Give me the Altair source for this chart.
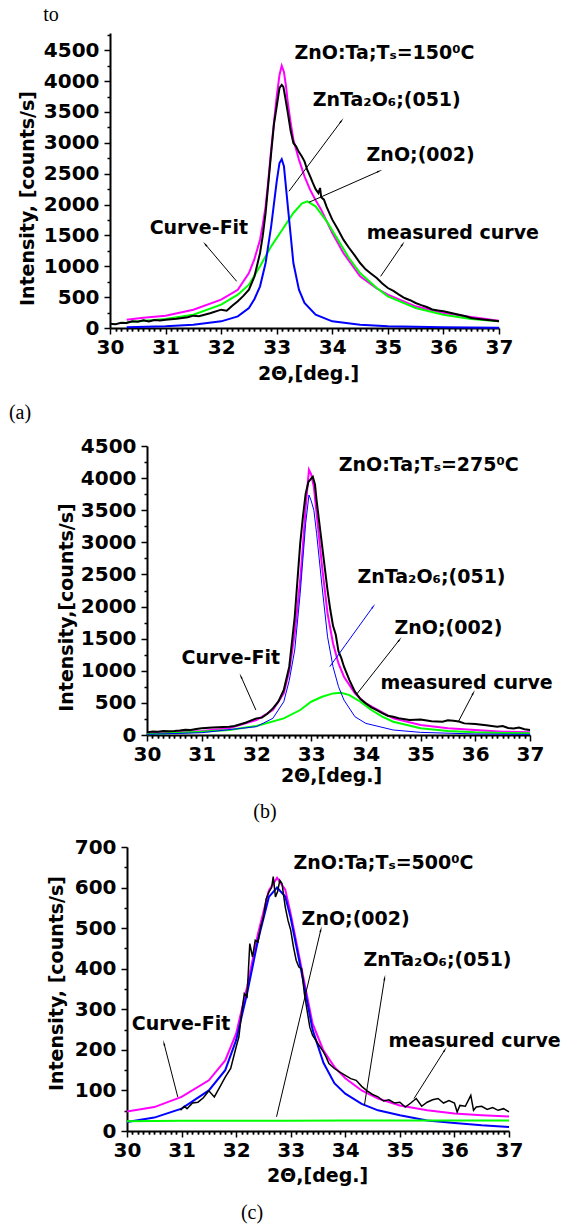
import math
import pandas as pd
import altair as alt

FONT = "DejaVu Sans"
SERIF = "Liberation Serif"

# ---------------- Panel (a) ----------------
a_fit_x = [30.3, 30.6, 31.0, 31.5, 32.0, 32.3, 32.5, 32.6, 32.7, 32.75, 32.8, 32.85, 32.9, 32.95, 33.0, 33.05,
           33.09, 33.13, 33.17, 33.2, 33.25, 33.3, 33.4, 33.5, 33.6, 33.7, 33.8, 34.0, 34.2, 34.5, 34.8, 35.0,
           35.5, 36.0, 36.5, 37.0]
a_fit_y = [135, 165, 200, 297, 459, 620, 890, 1120, 1430, 1680, 1970, 2400, 2890, 3330, 3754, 4100,
           4250, 4150, 3900, 3646, 3330, 3052, 2728, 2458, 2242, 2070, 1918, 1540, 1215, 837, 640, 540,
           351, 243, 178, 119]
a_zno_x = [30.3, 31.0, 31.5, 32.0, 32.3, 32.5, 32.7, 32.9, 33.1, 33.3, 33.45, 33.55, 33.7, 33.9, 34.1, 34.3,
           34.5, 34.8, 35.0, 35.5, 36.0, 36.5, 37.0]
a_zno_y = [92, 146, 216, 378, 540, 702, 999, 1323, 1593, 1864, 2015, 2052, 1972, 1729, 1432, 1134,
           891, 648, 513, 324, 216, 146, 108]
a_zta_x = [30.3, 31.0, 31.5, 32.0, 32.3, 32.5, 32.6, 32.7, 32.8, 32.9, 33.0, 33.05, 33.09, 33.13, 33.2, 33.3,
           33.4, 33.5, 33.7, 34.0, 34.5, 35.0, 36.0, 37.0]
a_zta_y = [11, 27, 54, 108, 189, 324, 470, 675, 1053, 1648, 2377, 2674, 2734, 2620, 1972, 1053,
           621, 405, 216, 108, 54, 27, 11, 5]
a_meas_x = [30.0, 30.1, 30.2, 30.3, 30.4, 30.5, 30.6, 30.7, 30.8, 30.9, 31.0, 31.2, 31.4, 31.5, 31.6, 31.8,
            32.0, 32.1, 32.2, 32.3, 32.4, 32.5, 32.6, 32.7, 32.75, 32.8, 32.85, 32.9, 32.95, 33.0, 33.05, 33.09,
            33.12, 33.15, 33.2, 33.25, 33.3, 33.35, 33.4, 33.45, 33.5, 33.55, 33.6, 33.65, 33.7, 33.75, 33.78,
            33.8, 33.85, 33.9, 34.0, 34.1, 34.2, 34.3, 34.4, 34.5, 34.6, 34.7, 34.8, 34.9, 35.0, 35.1, 35.2,
            35.3, 35.4, 35.5, 35.6, 35.7, 35.8, 35.9, 36.0, 36.2, 36.4, 36.5, 36.6, 36.8, 37.0]
a_meas_y = [70, 62, 85, 80, 110, 100, 125, 105, 130, 120, 135, 150, 175, 200, 190, 240,
            297, 280, 360, 432, 520, 620, 837, 1215, 1500, 1864, 2350, 2836, 3300, 3593, 3890, 3938,
            3906, 3755, 3485, 3200, 2998, 2939, 2850, 2782, 2700, 2560, 2460, 2350, 2250, 2188, 2269,
            2120, 2080, 1960, 1756, 1600, 1432, 1300, 1180, 1053, 950, 880, 810, 720, 648, 600, 540,
            486, 450, 405, 370, 340, 300, 285, 270, 230, 190, 162, 150, 130, 108]

# ---------------- Panel (b) ----------------
b_fit_x = [30.0, 30.5, 31.0, 31.5, 32.0, 32.3, 32.5, 32.6, 32.7, 32.8, 32.85, 32.9, 32.96, 33.0, 33.05, 33.1,
           33.2, 33.3, 33.4, 33.5, 33.6, 33.8, 34.0, 34.5, 35.0, 35.5, 36.0, 36.5, 37.0]
b_fit_y = [26, 42, 62, 104, 233, 389, 648, 1000, 1581, 2410, 2950, 3551, 4130, 4060, 3862, 3447,
           2617, 1892, 1426, 1115, 907, 648, 492, 259, 156, 104, 78, 52, 41]
b_zta_x = [30.0, 31.0, 32.0, 32.3, 32.5, 32.6, 32.7, 32.8, 32.9, 32.96, 33.0, 33.05, 33.1, 33.2, 33.3, 33.4,
           33.5, 33.6, 33.8, 34.0, 34.5, 35.0, 36.0, 37.0]
b_zta_y = [10, 36, 130, 259, 518, 850, 1322, 2203, 3292, 3737, 3650, 3499, 3136, 2307, 1529, 1063,
           752, 544, 285, 181, 78, 41, 16, 10]
b_zno_x = [30.0, 31.0, 31.5, 32.0, 32.5, 32.8, 33.0, 33.2, 33.4, 33.55, 33.7, 33.9, 34.1, 34.3, 34.5, 35.0,
           35.5, 36.0, 36.5, 37.0]
b_zno_y = [10, 52, 78, 140, 259, 389, 518, 596, 648, 658, 622, 518, 389, 285, 207, 104,
           62, 41, 31, 26]
b_meas_x = [30.0, 30.1, 30.2, 30.3, 30.4, 30.5, 30.6, 30.7, 30.8, 30.9, 31.0, 31.2, 31.4, 31.5, 31.6, 31.8,
            32.0, 32.1, 32.2, 32.3, 32.4, 32.5, 32.6, 32.7, 32.8, 32.85, 32.9, 32.95, 33.0, 33.03, 33.07, 33.1,
            33.15, 33.2, 33.25, 33.3, 33.35, 33.4, 33.45, 33.5, 33.55, 33.6, 33.7, 33.8, 33.9, 34.0, 34.1,
            34.2, 34.3, 34.4, 34.5, 34.6, 34.8, 35.0, 35.2, 35.4, 35.5, 35.6, 35.7, 35.8, 36.0, 36.2, 36.4,
            36.5, 36.6, 36.7, 36.8, 36.9, 37.0]
b_meas_y = [41, 55, 50, 62, 58, 62, 70, 80, 78, 95, 104, 115, 125, 130, 140, 190,
            259, 270, 330, 415, 520, 700, 1063, 1840, 2981, 3400, 3758, 3940, 3992, 4020, 3900, 3650,
            3300, 2950, 2600, 2250, 1950, 1700, 1560, 1300, 1200, 1063, 855, 674, 560, 492, 430,
            389, 340, 300, 285, 260, 233, 240, 215, 207, 230, 223, 210, 181, 170, 150, 130,
            140, 110, 100, 115, 90, 78]

# ---------------- Panel (c) ----------------
c_fit_x = [30.0, 30.5, 31.0, 31.5, 31.8, 32.0, 32.2, 32.4, 32.6, 32.75, 32.9, 33.0, 33.2, 33.4, 33.6, 33.8,
           34.0, 34.3, 34.6, 35.0, 35.5, 36.0, 36.5, 37.0]
c_fit_y = [48, 59, 84, 125, 174, 240, 355, 486, 593, 624, 595, 535, 400, 265, 198, 158,
           130, 100, 80, 63, 51, 43, 39, 36]
c_zno_y = [22, 33, 55, 100, 150, 224, 339, 470, 577, 600, 578, 525, 390, 250, 168, 118,
           92, 67, 51, 39, 26, 20, 14, 10]
c_zta_x = [30.0, 31.0, 32.0, 33.0, 34.0, 35.0, 36.0, 37.0]
c_zta_y = [24, 25, 25, 25, 26, 26, 26, 26]
c_meas_x = [30.98, 31.05, 31.1, 31.2, 31.3, 31.4, 31.5, 31.6, 31.7, 31.8, 31.9, 32.0, 32.05, 32.1, 32.15, 32.2,
            32.25, 32.3, 32.35, 32.4, 32.45, 32.5, 32.55, 32.6, 32.65, 32.68, 32.72, 32.76, 32.8, 32.84, 32.9,
            32.95, 33.0, 33.05, 33.1, 33.15, 33.2, 33.25, 33.3, 33.35, 33.4, 33.5, 33.6, 33.65, 33.7, 33.8,
            33.9, 34.0, 34.1, 34.2, 34.3, 34.4, 34.5, 34.6, 34.7, 34.8, 34.9, 35.0, 35.1, 35.2, 35.3, 35.4,
            35.5, 35.6, 35.7, 35.8, 35.9, 36.0, 36.05, 36.1, 36.2, 36.3, 36.35, 36.4, 36.5, 36.6, 36.7, 36.8,
            36.9, 37.0]
c_meas_y = [51, 61, 55, 69, 71, 82, 99, 84, 108, 133, 154, 207, 232, 290, 339, 331,
            462, 429, 470, 466, 503, 527, 572, 589, 600, 627, 577, 590, 618, 610, 552,
            519, 495, 454, 421, 404, 400, 339, 297, 256, 236, 215, 195, 182, 166, 154,
            145, 137, 129, 125, 110, 99, 90, 84, 74, 77, 69, 71, 59, 69, 80, 61,
            71, 77, 80, 69, 75, 69, 47, 63, 61, 88, 51, 59, 61, 53, 58, 51,
            55, 47]

# ---------------- annotations (text, x, y) and arrows (x1, y1, x2, y2, colour) ----------------
a_texts = [("ZnO:Ta;Tₛ=150⁰C", 34.94, 4457), ("ZnTa₂O₆;(051)", 34.98, 3700), ("ZnO;(002)", 35.59, 2809),
           ("Curve-Fit", 31.60, 1621), ("measured curve", 36.17, 1540)]
a_arrows = [(33.22, 2215, 34.16, 3350, "black"), (33.58, 2037, 34.84, 2539, "black"),
            (32.28, 756, 31.72, 1350, "black"), (34.87, 837, 35.26, 1350, "black")]
b_texts = [("ZnO:Ta;Tₛ=275⁰C", 35.15, 4199), ("ZnTa₂O₆;(051)", 35.2, 2462), ("ZnO;(002)", 35.51, 1659),
           ("Curve-Fit", 31.53, 1192), ("measured curve", 35.84, 804)]
b_arrows = [(33.34, 1063, 34.13, 1996, "#0000ff"), (33.82, 622, 34.61, 1477, "black"),
            (31.99, 389, 31.72, 907, "black"), (35.69, 207, 35.96, 648, "black")]
c_texts = [("ZnO:Ta;Tₛ=500⁰C", 34.70, 661), ("ZnO;(002)", 34.19, 523), ("ZnTa₂O₆;(051)", 35.69, 421),
           ("Curve-Fit", 30.99, 263), ("measured curve", 36.37, 223)]
c_arrows = [(32.74, 35, 33.55, 495, "black"), (34.35, 63, 34.72, 376, "black"),
            (30.93, 84, 30.68, 215, "black"), (35.26, 80, 35.82, 199, "black")]

X_MAJOR = [30, 31, 32, 33, 34, 35, 36, 37]
X_MINOR = [round(30 + i * 0.1, 1) for i in range(71) if i % 10 != 0]
MAGENTA, GREEN, BLUE = "#ff00ff", "#00ff00", "#0000ff"


def panel(series, texts, arrows, ymax, ystep, ymajor, w, h, ytitle, ytx, yty, xtx, xty, labels):
    sx, sy = w / 7.0, h / float(ymax)
    xs = alt.Scale(domain=[30, 37], nice=False, zero=False)
    ys = alt.Scale(domain=[0, ymax], nice=False)
    y_major = [v for v in range(0, int(ymax) + 1, ymajor)]
    y_even = y_major[0::2]
    y_odd = y_major[1::2]
    y_minor = [v for v in range(0, int(ymax) + 1, ystep) if v % ymajor != 0]
    xaxis = alt.Axis(values=X_MAJOR, format="d", orient="bottom", tickSize=6,
                     labelFlush=False, labelOverlap=False, labelBound=False, labelPadding=3,
                     title="2Θ,[deg.]", titleX=xtx, titleY=xty, titleAlign="center", titleBaseline="middle")
    yaxis = alt.Axis(values=y_even, format="d", orient="left", tickSize=6,
                     labelFlush=False, labelOverlap=False, labelBound=False, labelPadding=5,
                     title=ytitle, titleX=ytx, titleY=yty, titleAngle=270, titleAlign="center",
                     titleBaseline="middle")
    yodd = alt.Axis(values=y_odd, format="d", orient="left", tickSize=6, domain=False,
                    labelFlush=False, labelOverlap=False, labelBound=False, labelPadding=5, title=None)
    xminor = alt.Axis(values=X_MINOR, orient="bottom", tickSize=3, labels=False, domain=False, title=None)
    yminor = alt.Axis(values=y_minor, orient="left", tickSize=3, labels=False, domain=False, title=None)
    layers = []
    for i, (xv, yv, col, sw) in enumerate(series):
        df = pd.DataFrame({"x": xv, "y": yv})
        if i == 0:
            ex = alt.X("x:Q", scale=xs, axis=xaxis)
            ey = alt.Y("y:Q", scale=ys, axis=yaxis)
        else:
            ex = alt.X("x:Q", scale=xs)
            ey = alt.Y("y:Q", scale=ys)
        layers.append(alt.Chart(df).mark_line(color=col, strokeWidth=sw).encode(x=ex, y=ey))
    tdf = pd.DataFrame({"t": [t[0] for t in texts], "x": [t[1] for t in texts], "y": [t[2] for t in texts]})
    layers.append(alt.Chart(tdf).mark_text(font=FONT, fontWeight="bold", fontSize=19, color="black").encode(
        x=alt.X("x:Q", scale=xs), y=alt.Y("y:Q", scale=ys), text="t:N"))
    rows = []
    for (x1, y1, x2, y2, c) in arrows:
        dx = (x2 - x1) * sx
        dy = -(y2 - y1) * sy
        ang = math.degrees(math.atan2(dx, -dy)) % 360
        rows.append({"x": x1, "y": y1, "xe": x2, "ye": y2, "c": c, "ang": ang})
    adf = pd.DataFrame(rows)
    layers.append(alt.Chart(adf).mark_rule(strokeWidth=1).encode(
        x=alt.X("x:Q", scale=xs), y=alt.Y("y:Q", scale=ys),
        x2="xe:Q", y2="ye:Q", color=alt.Color("c:N", scale=None)))
    layers.append(alt.Chart(adf).mark_point(shape="wedge", filled=True, size=45, opacity=1).encode(
        x=alt.X("xe:Q", scale=xs), y=alt.Y("ye:Q", scale=ys),
        angle=alt.Angle("ang:Q", scale=None), color=alt.Color("c:N", scale=None)))
    for (txt, px, py) in labels:
        layers.append(alt.Chart(pd.DataFrame({"a": [0]})).mark_text(
            font=SERIF, fontSize=20, color="black").encode(
            x=alt.value(px), y=alt.value(py), text=alt.value(txt)))
    main = alt.layer(*layers)
    df0 = pd.DataFrame({"x": series[0][0], "y": series[0][1]})
    minor = alt.Chart(df0).mark_line(opacity=0).encode(
        x=alt.X("x:Q", scale=xs, axis=xminor), y=alt.Y("y:Q", scale=ys, axis=yminor))
    odd = alt.Chart(df0).mark_line(opacity=0).encode(
        x=alt.X("x:Q", scale=xs, axis=xminor), y=alt.Y("y:Q", scale=ys, axis=yodd))
    return alt.layer(main, minor, odd).resolve_axis(x="independent", y="independent").properties(
        width=w, height=h)


pa = panel([(a_fit_x, a_fit_y, MAGENTA, 2), (a_zno_x, a_zno_y, GREEN, 2), (a_zta_x, a_zta_y, BLUE, 2),
            (a_meas_x, a_meas_y, "black", 2)],
           a_texts, a_arrows, 4780, 250, 500, 389, 295, "Intensity, [counts/s]", -83, 165, 198, 45,
           [("to", -59, -18), ("(a)", -90, 380)])
pb = panel([(b_fit_x, b_fit_y, MAGENTA, 2), (b_zno_x, b_zno_y, GREEN, 2), (b_zta_x, b_zta_y, BLUE, 1),
            (b_meas_x, b_meas_y, "black", 2)],
           b_texts, b_arrows, 4500, 250, 500, 383, 289, "Intensity,[counts/s]", -81, 161, 184, 40,
           [("(b)", 118, 366)])
pc = panel([(c_fit_x, c_fit_y, MAGENTA, 2), (c_fit_x, c_zno_y, BLUE, 2), (c_zta_x, c_zta_y, GREEN, 2),
            (c_meas_x, c_meas_y, "black", 1.5)],
           c_texts, c_arrows, 700, 50, 100, 382, 284, "Intensity, [counts/s]", -71, 136, 190, 44,
           [("(c)", 125, 366)])


def spacer(w, top, bottom):
    # invisible vertical rule that fixes the row's extent
    return alt.Chart(pd.DataFrame({"a": [0]})).mark_rule(opacity=0).encode(
        x=alt.value(0), y=alt.value(top), y2=alt.value(bottom)).properties(width=w, height=1)


row_a = alt.hconcat(spacer(110, -33, 397), pa, spacing=0, bounds="flush")
row_b = alt.hconcat(spacer(147, -16, 389), pb, spacing=0, bounds="flush")
row_c = alt.hconcat(spacer(127, -12, 378), pc, spacing=0, bounds="flush")

chart = alt.vconcat(row_a, row_b, row_c, spacing=0).properties(
    padding={"left": 0, "top": 0, "right": 0, "bottom": 0}
).configure_view(strokeWidth=0).configure_axis(
    labelFont=FONT, labelFontWeight="bold", labelFontSize=20, labelColor="black",
    titleFont=FONT, titleFontWeight="bold", titleFontSize=19, titleColor="black",
    domainColor="black", domainWidth=2, tickColor="black", tickWidth=1.5, grid=False
)

chart.save("out.html", embed_options={"renderer": "svg", "actions": False})
